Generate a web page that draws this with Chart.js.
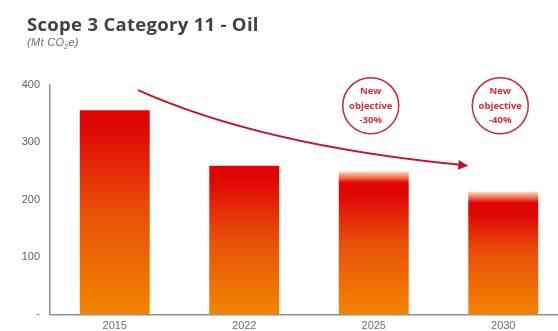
<!DOCTYPE html>
<html>
<head>
<meta charset="utf-8">
<script src="https://cdn.jsdelivr.net/npm/chart.js@4.4.0/dist/chart.umd.min.js"></script>
<style>
  html, body { margin: 0; padding: 0; background: #fff; overflow: hidden; width: 558px; height: 331px; }
  .wrap { position: relative; width: 570px; height: 331px; }
  .title { position: absolute; left: 27px; top: 11px; font: bold 18.5px "Open Sans", sans-serif; color: #3d4247; letter-spacing: 0.3px; }
  .sub { position: absolute; left: 27px; top: 36px; font: italic 11px "Liberation Sans", sans-serif; color: #6b6f73; letter-spacing: 0.3px; }
  canvas { position: absolute; left: 0; top: 0; }
</style>
</head>
<body>
<div class="wrap">
  <canvas id="c" width="570" height="331"></canvas>
  <div class="title">Scope 3 Category 11 - Oil</div>
  <div class="sub">(Mt CO<sub style="font-size:7px">2</sub>e)</div>
</div>
<script>
const years = ["2015", "2022", "2025", "2030"];
const emissions = [356, 259, 249, 214];
const isObjective = [false, false, true, true];
const yTicks = [0, 100, 200, 300, 400];
const badgeText = [null, null, ["New", "objective", "-30%"], ["New", "objective", "-40%"]];

function barFill(context) {
  const chart = context.chart;
  if (!chart.chartArea) return "#e94a05";
  const i = context.dataIndex;
  const y = chart.scales.y;
  const top = y.getPixelForValue(emissions[i]);
  const bottom = y.getPixelForValue(0);
  const g = chart.ctx.createLinearGradient(0, top, 0, bottom);
  const h = bottom - top;
  if (isObjective[i]) {
    const f = 11 / h;
    g.addColorStop(0, "#fbd9c8");
    g.addColorStop(f * 0.5, "#f07a55");
    g.addColorStop(f, "#e00505");
    g.addColorStop(f + 0.08, "#e00505");
  } else {
    g.addColorStop(0, "#e00505");
    g.addColorStop(0.08, "#e00505");
  }
  g.addColorStop(0.5, "#e9500a");
  g.addColorStop(1, "#f28500");
  return g;
}

const decor = {
  id: "decor",
  afterDatasetsDraw(chart) {
    const ctx = chart.ctx;
    const x = chart.scales.x, y = chart.scales.y;
    const px = v => x.getPixelForValue(0) + v * (x.getPixelForValue(1) - x.getPixelForValue(0));
    // trend arrow
    const sx = px(0.18), sy = y.getPixelForValue(391);
    const cx = px(1.13), cy = y.getPixelForValue(295);
    const ex = px(2.73), ey = y.getPixelForValue(259);
    ctx.save();
    ctx.strokeStyle = "#c8102e";
    ctx.fillStyle = "#c8102e";
    ctx.lineWidth = 2;
    ctx.beginPath();
    ctx.moveTo(sx, sy);
    ctx.quadraticCurveTo(cx, cy, ex - 8, ey - 1);
    ctx.stroke();
    const ang = Math.atan2(ey - cy, ex - cx);
    ctx.beginPath();
    ctx.moveTo(ex, ey);
    ctx.lineTo(ex - 10 * Math.cos(ang) + 5 * Math.sin(ang), ey - 10 * Math.sin(ang) - 5 * Math.cos(ang));
    ctx.lineTo(ex - 10 * Math.cos(ang) - 5 * Math.sin(ang), ey - 10 * Math.sin(ang) + 5 * Math.cos(ang));
    ctx.closePath();
    ctx.fill();
    // objective badges
    badgeText.forEach((lines, i) => {
      if (!lines) return;
      const bx = x.getPixelForValue(i) - 3, by = y.getPixelForValue(364);
      ctx.beginPath();
      ctx.arc(bx, by, 28, 0, Math.PI * 2);
      ctx.strokeStyle = "#c42a40";
      ctx.lineWidth = 1.5;
      ctx.stroke();
      ctx.fillStyle = "#dc2a35";
      ctx.font = "bold 9.5px 'Open Sans', sans-serif";
      ctx.textAlign = "center";
      ctx.textBaseline = "middle";
      lines.forEach((t, k) => ctx.fillText(t, bx, by - 14 + k * 14.5));
    });
    ctx.restore();
  }
};

new Chart(document.getElementById("c"), {
  type: "bar",
  data: {
    labels: years,
    datasets: [{
      data: emissions,
      backgroundColor: barFill,
      borderWidth: 0,
      categoryPercentage: 1,
      barPercentage: 0.54
    }]
  },
  options: {
    responsive: false,
    animation: false,
    events: [],
    layout: { padding: { top: 85, right: 2, left: 0, bottom: 0 } },
    plugins: { legend: { display: false }, tooltip: { enabled: false }, title: { display: false } },
    scales: {
      x: {
        grid: { display: false, drawTicks: false },
        border: { color: "#8c9196", width: 1.5 },
        ticks: { color: "#6a6e72", font: { family: "'Liberation Sans', sans-serif", size: 11 }, padding: 5 },
        afterFit: s => { s.height = 15; }
      },
      y: {
        min: 0, max: 400,
        afterBuildTicks: s => { s.ticks = yTicks.map(v => ({ value: v })); },
        grid: { display: false, drawTicks: false },
        border: { color: "#8c9196", width: 1.5 },
        ticks: {
          color: "#5f6367",
          font: { family: "'Liberation Sans', sans-serif", size: 11 },
          padding: 10,
          callback: v => v === 0 ? "-" : v
        },
        afterFit: s => { s.width = 50; }
      }
    }
  },
  plugins: [decor]
});
</script>
</body>
</html>
